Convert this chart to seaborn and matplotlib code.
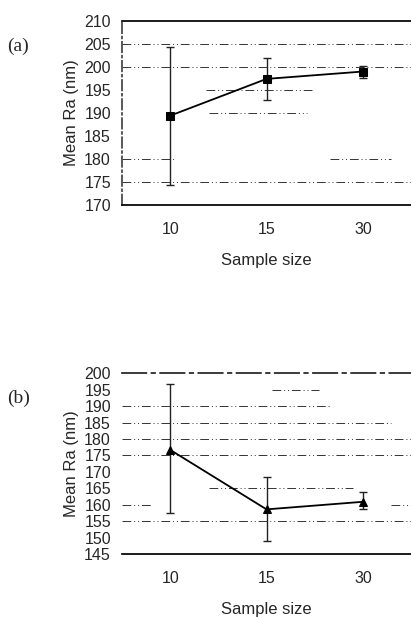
import numpy as np
import pandas as pd
import matplotlib
matplotlib.use("Agg")
import matplotlib.pyplot as plt
import seaborn as sns

sns.set_theme(style="white")
plt.rcParams['font.family'] = ['Liberation Sans', 'DejaVu Sans']

sample_sizes = ["10", "15", "30"]

# panel (a)
mean_a = [189.4, 197.4, 199.0]
upper_a = [204.4, 201.9, 200.1]
lower_a = [174.3, 192.8, 197.7]
# faint scanned grid: (level, xmin, xmax) in axes fraction
grid_a = [(205, 0.0, 1.0), (200, 0.0, 1.0), (195, 0.29, 0.66), (190, 0.30, 0.64),
          (180, 0.0, 0.18), (180, 0.72, 0.93), (175, 0.0, 1.0)]

# panel (b)
mean_b = [176.7, 158.6, 160.9]
upper_b = [196.6, 168.3, 163.8]
lower_b = [157.4, 149.0, 158.8]
grid_b = [(195, 0.52, 0.68), (190, 0.0, 0.72), (185, 0.0, 0.93),
          (180, 0.0, 1.0), (175, 0.0, 1.0), (165, 0.3, 0.8), (160, 0.0, 0.1),
          (160, 0.93, 1.0), (155, 0.0, 1.0)]


def draw_panel(ax, means, upper, lower, grid, marker, ylim, label, yticks):
    pos = np.arange(len(sample_sizes))
    df = pd.DataFrame({"pos": pos, "mean": means})
    for g, x0, x1 in grid:
        ax.axhline(g, x0, x1, color="#333333", lw=0.7,
                   ls=(0, (9, 3, 1, 3, 1, 3)), zorder=0)
    means = np.array(means)
    yerr = [means - np.array(lower), np.array(upper) - means]
    ax.errorbar(pos, means, yerr=yerr, fmt="none", ecolor="#222222",
                elinewidth=1.0, capsize=3, capthick=1.0, zorder=2)
    sns.lineplot(data=df, x="pos", y="mean", ax=ax, color="black", lw=1.3,
                 marker=marker, markersize=5.5, markeredgecolor="black", zorder=3)
    ax.set_xlim(-0.5, len(sample_sizes) - 0.5)
    ax.set_ylim(*ylim)
    ax.set_yticks(yticks)
    ax.set_xticks(pos)
    ax.set_xticklabels(sample_sizes)
    ax.tick_params(axis="both", length=0, labelsize=11.5)
    ax.tick_params(axis="y", pad=8)
    ax.tick_params(axis="x", pad=12)
    ax.set_xlabel("Sample size", fontsize=12, labelpad=12)
    ax.set_ylabel("Mean Ra (nm)", fontsize=12, labelpad=4)
    ax.spines["right"].set_visible(False)
    ax.spines["top"].set_color("black")
    ax.spines["bottom"].set_color("black")
    ax.spines["left"].set_color("#444444")
    ax.spines["left"].set_linestyle((0, (6, 2, 1, 2)))
    ax.figure.text(0.018, ax.get_position().y1 - 0.048, label,
                   fontsize=14, family=["Liberation Serif", "DejaVu Serif"])


fig = plt.figure(figsize=(4.11, 6.17), dpi=100)
ax_a = fig.add_axes([0.297, 0.668, 0.703, 0.298])
ax_b = fig.add_axes([0.297, 0.102, 0.703, 0.293])

draw_panel(ax_a, mean_a, upper_a, lower_a, grid_a, "s", (170, 210), "(a)",
           np.arange(170, 211, 5))
draw_panel(ax_b, mean_b, upper_b, lower_b, grid_b, "^", (145, 200), "(b)",
           np.arange(145, 201, 5))
ax_b.spines["left"].set_visible(False)
ax_b.spines["top"].set_color("#222222")
ax_b.spines["top"].set_linestyle((0, (14, 3, 2, 3)))

fig.savefig("out.png", dpi=100)
